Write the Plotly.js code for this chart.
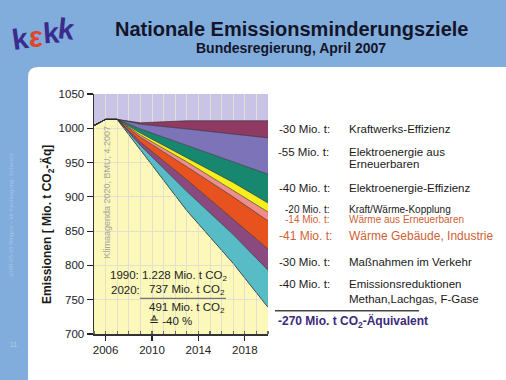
<!DOCTYPE html>
<html><head><meta charset="utf-8">
<script src="https://cdn.plot.ly/plotly-3.0.1.min.js"></script>
<style>html,body{margin:0;padding:0;background:#fff;}#chart{width:506px;height:380px;}</style>
</head><body><div id="chart"></div>
<script>
// ---- data (Mio. t CO2-Äq), boundaries of the stacked reduction wedges ----
const years        = [2005, 2006, 2007, 2009, 2013, 2017, 2020];
const baseline     = [1004, 1013, 1013, 969, 880, 803, 739];   // remaining emissions
const topGase      = [1004, 1013, 1013, 975, 908, 845, 793];   // Emissionsreduktionen Methan, Lachgas, F-Gase
const topVerkehr   = [1004, 1013, 1013, 980, 925, 868, 824];   // Maßnahmen im Verkehr
const topGebaeude  = [1004, 1013, 1013, 987, 944, 900, 865];   // Wärme Gebäude, Industrie
const topWaermeEE  = [1004, 1013, 1013, 990, 951, 910, 878];   // Wärme aus Erneuerbaren
const topKWK       = [1004, 1013, 1013, 993, 957, 921, 891];   // Kraft/Wärme-Kopplung
const topElEff     = [1004, 1013, 1013, 999, 975, 951, 933];   // Elektroenergie-Effizienz
const topElEE      = [1004, 1013, 1013, 1006, 999, 992, 986];  // Elektroenergie aus Erneuerbaren
const topKraftwerk = [1004, 1013, 1013, 1008, 1011, 1011, 1011]; // Kraftwerks-Effizienz

const xRange = [2005, 2020];
const yRange = [700, 1050];

const labelAmounts = ['-30 Mio. t:', '-55 Mio. t:', '-40 Mio. t:', '-20 Mio. t:', '-14 Mio. t:', '-41 Mio. t:', '-30 Mio. t:', '-40 Mio. t:'];
const labelNames = [['Kraftwerks-Effizienz'], ['Elektroenergie aus', 'Erneuerbaren'], ['Elektroenergie-Effizienz'],
  ['Kraft/Wärme-Kopplung'], ['Wärme aus Erneuerbaren'], ['Wärme Gebäude, Industrie'], ['Maßnahmen im Verkehr'],
  ['Emissionsreduktionen', 'Methan,Lachgas, F-Gase']];
const totalLabel = '-270 Mio. t CO<sub>2</sub>-Äquivalent';

// ---- styling ----
const W = 506, H = 380, L = 94, R = 238, T = 94, B = 46;
const pw = W - L - R, ph = H - T - B;
const fx = x => (x - L) / pw, fy = y => (H - B - y) / ph;
const FONT = 'Liberation Sans, Arial, sans-serif';
const BLUE = '#80addc';
const GRID = '#e3e0cf';
const EDGE = '#2b2b2b';

const traces = [];
traces.push({x: years, y: baseline, xaxis: 'x', yaxis: 'y', type: 'scatter', mode: 'lines',
  fill: 'tozeroy', fillcolor: '#fbf8b9', line: {color: '#555', width: 0.8}, hoverinfo: 'skip'});
traces.push({x: years, y: baseline, xaxis: 'x2', yaxis: 'y2', type: 'scatter', mode: 'lines',
  line: {color: EDGE, width: 0.6}, hoverinfo: 'skip'});
const bands = [
  [topGase, '#57bcc6'], [topVerkehr, '#8a4a80'], [topGebaeude, '#e8521f'], [topWaermeEE, '#ee8e8c'],
  [topKWK, '#f6ef1c'], [topElEff, '#17876f'], [topElEE, '#7c73b9'], [topKraftwerk, '#8e3a62']
];
bands.forEach(([vals, col]) => traces.push({x: years, y: vals, xaxis: 'x2', yaxis: 'y2', type: 'scatter',
  mode: 'lines', fill: 'tonexty', fillcolor: col, line: {color: EDGE, width: 0.6}, hoverinfo: 'skip'}));

const ann = [];
function txt(text, x, y, o = {}) {
  ann.push(Object.assign({xref: 'paper', yref: 'paper', x: fx(x), y: fy(y), text: text, showarrow: false,
    xanchor: o.xa || 'left', yanchor: 'middle', textangle: o.angle || 0,
    font: {family: o.family || FONT, size: o.size || 11.5, color: o.color || '#1a1a1a', weight: o.weight || 'normal'}}, {}));
}
// header
txt('Nationale Emissionsminderungsziele', 291, 29, {xa: 'center', size: 20, weight: 'bold', color: '#15152a'});
txt('Bundesregierung, April 2007', 291, 48, {xa: 'center', size: 14, weight: 'bold', color: '#15152a'});
// logo
txt('k', 20.5, 38.5, {xa: 'center', size: 29, weight: 'bold', color: '#3b2b8c', angle: -8});
txt('ε', 35.5, 37, {xa: 'center', size: 29, weight: 'bold', color: '#e0452a'});
txt('k', 51, 33, {xa: 'center', size: 29, weight: 'bold', color: '#3b2b8c', angle: -4});
txt('k', 66.5, 29, {xa: 'center', size: 29, weight: 'bold', color: '#3b2b8c', angle: 6});
// left strip
txt('2008-05-26 Bingen – kk-Fachtagung, Schwarz', 11, 215, {xa: 'center', size: 6, color: 'rgba(255,255,255,0.3)', angle: -90});
txt('11', 13, 344, {xa: 'center', size: 7, color: 'rgba(255,255,255,0.4)'});
// axis title and watermark
txt('Emissionen [ Mio. t CO<sub>2</sub>-Äq]', 47, 225, {xa: 'center', size: 12, weight: 'bold', angle: -90});
txt('Klimaagenda 2020, BMU, 4.2007', 106.5, 192, {xa: 'center', size: 9, color: '#a9a79a', angle: -90});
// box inside chart
txt('1990: 1.228 Mio. t CO<sub>2</sub>', 107.5, 276, {color: '#222'});
txt('2020:', 109, 290, {color: '#222'});
txt('737 Mio. t CO<sub>2</sub>', 147, 290, {color: '#222'});
txt('491 Mio. t CO<sub>2</sub>', 147, 307.5, {color: '#222'});
txt('≙ -40 %', 147, 321, {color: '#222'});
// right labels
const amountX = [277, 275.7, 277, 283, 283, 276.7, 276.7, 276.7];
const rowY = [[129], [151.7, 163.5], [188.3], [209], [219], [235.5], [262], [283.5, 299]];
const rowSize = [11.5, 11.5, 11.5, 10, 10, 12, 11.5, 11.5];
const rowColor = ['#1a1a1a', '#1a1a1a', '#1a1a1a', '#1a1a1a', '#cf5f35', '#cf5f35', '#1a1a1a', '#1a1a1a'];
labelAmounts.forEach((a, i) => {
  txt(a, amountX[i], rowY[i][0], {size: rowSize[i], color: rowColor[i]});
  labelNames[i].forEach((n, j) => txt(n, 347, rowY[i][j], {size: rowSize[i], color: rowColor[i]}));
});
txt(totalLabel, 275.5, 321, {size: 12, weight: 'bold', color: '#3a2a7a'});

const r = 10;
const shapes = [
  {type: 'path', xref: 'paper', yref: 'paper', layer: 'below', fillcolor: '#ffffff', line: {width: 0},
   path: `M ${fx(28)} ${fy(380)} L ${fx(28)} ${fy(67 + r)} Q ${fx(28)} ${fy(67)} ${fx(28 + r)} ${fy(67)} L ${fx(506)} ${fy(67)} L ${fx(506)} ${fy(380)} Z`},
  {type: 'rect', xref: 'paper', yref: 'paper', layer: 'below', x0: 0, x1: 1, y0: 0, y1: 1, fillcolor: '#c9c3e6', line: {width: 0}},
  {type: 'line', xref: 'paper', yref: 'paper', x0: fx(140), x1: fx(226), y0: fy(298.3), y1: fy(298.3), line: {color: '#555', width: 1}},
  {type: 'line', xref: 'paper', yref: 'paper', x0: fx(275), x1: fx(419), y0: fy(310.7), y1: fy(310.7), line: {color: '#444', width: 1.5}}
];

const tickfont = {family: FONT, size: 11.5, color: '#222'};
const layout = {
  width: W, height: H, margin: {l: L, r: R, t: T, b: B, pad: 0},
  paper_bgcolor: BLUE, plot_bgcolor: 'rgba(0,0,0,0)', showlegend: false,
  xaxis: {domain: [0, 1], anchor: 'y', range: xRange, visible: false, fixedrange: true},
  yaxis: {domain: [0, 1], anchor: 'x', range: yRange, visible: false, fixedrange: true},
  xaxis2: {domain: [0, 1], anchor: 'y2', range: xRange, tick0: 2006, dtick: 4, ticks: 'outside', ticklen: 5,
    tickwidth: 1.2, tickcolor: '#222', showline: true, linecolor: '#333', linewidth: 1.5, showgrid: true,
    gridcolor: GRID, gridwidth: 1, zeroline: false, tickfont: tickfont,
    minor: {tick0: 2005, dtick: 1, ticks: 'inside', ticklen: 3, tickcolor: '#666', showgrid: true, gridcolor: GRID, gridwidth: 1}},
  yaxis2: {domain: [0, 1], anchor: 'x2', range: yRange, tick0: 700, dtick: 50, ticks: 'outside', ticklen: 6,
    tickwidth: 1.2, tickcolor: '#222', showline: true, linecolor: '#333', linewidth: 1.5, showgrid: true,
    gridcolor: GRID, gridwidth: 1, zeroline: false, tickfont: tickfont},
  annotations: ann, shapes: shapes
};
Plotly.newPlot('chart', traces, layout, {staticPlot: true, displayModeBar: false});
</script></body></html>
